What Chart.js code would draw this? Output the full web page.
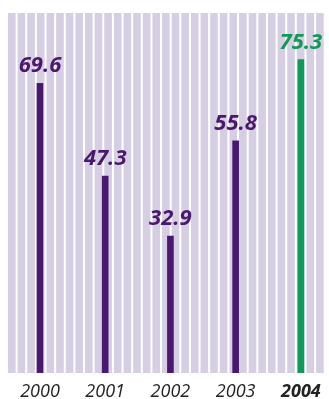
<!DOCTYPE html>
<html>
<head>
<meta charset="utf-8">
<script src="https://cdn.jsdelivr.net/npm/chart.js@4/dist/chart.umd.min.js"></script>
<style>
  html, body { margin: 0; padding: 0; background: #fff; }
  #wrap { width: 329px; height: 399px; position: relative; }
</style>
</head>
<body>
<div id="wrap"><canvas id="yearsChart"></canvas></div>
<script>
const years = ["2000", "2001", "2002", "2003", "2004"];
const values = [69.6, 47.3, 32.9, 55.8, 75.3];
const barColors = ["#4b1870", "#4b1870", "#4b1870", "#4b1870", "#0f9b57"];

const FONT = "'Open Sans', 'Noto Sans', sans-serif";

// lavender stripes behind the bars
const stripes = {
  id: "stripes",
  beforeDraw(chart) {
    const { ctx, chartArea } = chart;
    const { left, right, top, bottom } = chartArea;
    const n = 33;
    const step = (right - left + 2) / n;
    ctx.save();
    ctx.fillStyle = "#d6cfe4";
    for (let i = 0; i < n; i++) {
      ctx.fillRect(left + i * step, top, step - 2, bottom - top);
    }
    ctx.restore();
  },
};

// value labels above each bar
const valueLabels = {
  id: "valueLabels",
  afterDatasetsDraw(chart) {
    const { ctx } = chart;
    const meta = chart.getDatasetMeta(0);
    ctx.save();
    ctx.font = `italic bold 22px ${FONT}`;
    ctx.textAlign = "center";
    ctx.textBaseline = "alphabetic";
    meta.data.forEach((bar, i) => {
      ctx.fillStyle = barColors[i];
      ctx.fillText(values[i].toFixed(1), bar.x, bar.y - 11);
    });
    ctx.restore();
  },
};

new Chart(document.getElementById("yearsChart"), {
  type: "bar",
  data: {
    datasets: [
      {
        data: values.map((v, i) => ({ x: i, y: v })),
        backgroundColor: barColors,
        barThickness: 6,
      },
    ],
  },
  options: {
    responsive: true,
    maintainAspectRatio: false,
    animation: false,
    layout: { padding: { left: 8, right: 4, top: 13, bottom: 0 } },
    plugins: { legend: { display: false }, tooltip: { enabled: false } },
    scales: {
      x: {
        type: "linear",
        offset: false,
        min: -0.49,
        max: 4.35,
        grid: { display: false, drawTicks: false },
        border: { display: false },
        afterBuildTicks: (axis) => {
          axis.ticks = years.map((y, i) => ({ value: i }));
        },
        afterFit: (axis) => {
          axis.height = 26;
        },
        ticks: {
          padding: 8,
          color: "#222",
          maxRotation: 0,
          autoSkip: false,
          callback: (value) => years[value],
          font: (c) => ({
            family: FONT,
            size: 18,
            style: "italic",
            weight: c.index === 4 ? "bold" : "normal",
          }),
        },
      },
      y: {
        display: false,
        min: 0,
        max: 86.5,
      },
    },
  },
  plugins: [stripes, valueLabels],
});
</script>
</body>
</html>
